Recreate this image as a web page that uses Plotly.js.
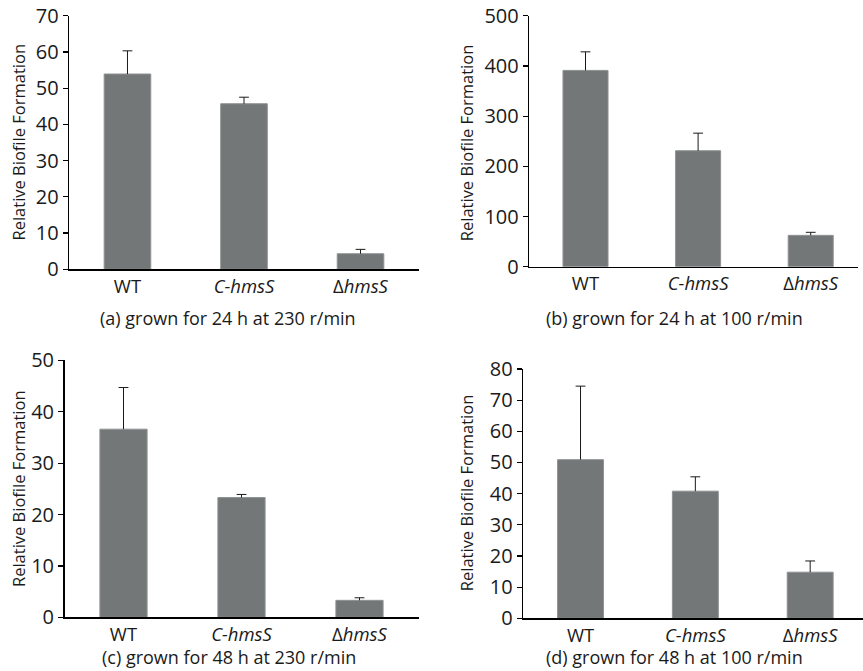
<!DOCTYPE html>
<html>
<head>
<meta charset="utf-8">
<script src="https://cdn.plot.ly/plotly-3.0.1.min.js"></script>
<style>html,body{margin:0;padding:0;background:#fff;}#chart{width:863px;height:671px;}</style>
</head>
<body>
<div id="chart"></div>
<script>
// Categories (strains)
const categories = ['WT', '<i>C-hmsS</i>', 'Δ<i>hmsS</i>'];

// (a) grown for 24 h at 230 r/min
const valuesA = [53.9, 45.7, 4.3];
const errorsA = [6.4, 1.8, 1.2];
// (b) grown for 24 h at 100 r/min
const valuesB = [391, 231, 62.5];
const errorsB = [37, 35, 6];
// (c) grown for 48 h at 230 r/min
const valuesC = [36.6, 23.3, 3.3];
const errorsC = [8.1, 0.6, 0.5];
// (d) grown for 48 h at 100 r/min
const valuesD = [50.9, 40.8, 14.8];
const errorsD = [23.6, 4.6, 3.6];

const captions = [
  '(a) grown for 24 h at 230 r/min',
  '(b) grown for 24 h at 100 r/min',
  '(c) grown for 48 h at 230 r/min',
  '(d) grown for 48 h at 100 r/min'
];
const yTitle = 'Relative Biofile Formation';

const W = 863, H = 671;
const FONT = '"Open Sans", "DejaVu Sans", sans-serif';
const BAR = '#737777';
const INK = '#1a1a1a';

function bar(vals, xa, ya) {
  return {
    type: 'bar', x: categories, y: vals, xaxis: xa, yaxis: ya,
    width: 0.4,
    marker: {color: BAR, line: {color: '#8e9292', width: 1}},
    showlegend: false, hoverinfo: 'none'
  };
}
// upper-only error bar: cap drawn as marker at the top, stem drawn down to the bar top
function err(vals, errs, xa, ya) {
  return {
    type: 'scatter', mode: 'markers', x: categories,
    y: vals.map((v, i) => v + errs[i]), xaxis: xa, yaxis: ya,
    marker: {symbol: 'line-ew-open', size: 7, color: INK, line: {color: INK, width: 1}},
    error_y: {type: 'data', symmetric: false, array: errs.map(() => 0),
              arrayminus: errs, color: INK, thickness: 1, width: 0},
    showlegend: false, hoverinfo: 'none', cliponaxis: false
  };
}

const data = [
  bar(valuesA, 'x', 'y'),   err(valuesA, errorsA, 'x', 'y'),
  bar(valuesB, 'x2', 'y2'), err(valuesB, errorsB, 'x2', 'y2'),
  bar(valuesC, 'x3', 'y3'), err(valuesC, errorsC, 'x3', 'y3'),
  bar(valuesD, 'x4', 'y4'), err(valuesD, errorsD, 'x4', 'y4')
];

function xd(a, b) { return [a / W, Math.min(b / W, 1)]; }
function yd(top, bottom) { return [1 - bottom / H, 1 - top / H]; }

function xaxis(dom, r) {
  return {
    domain: dom, range: r, showgrid: false, zeroline: false,
    showline: true, linecolor: '#000', linewidth: 1.5, ticks: '',
    tickfont: {family: FONT, size: 18.5, color: INK}, fixedrange: true
  };
}
function yaxis(dom, r, dt) {
  return {
    domain: dom, range: r, dtick: dt, showgrid: false, zeroline: false,
    showline: true, linecolor: '#000', linewidth: 1.5, ticks: 'outside',
    ticklen: 5, tickcolor: '#000', tickwidth: 1.2,
    tickfont: {family: FONT, size: 20, color: INK}, fixedrange: true
  };
}

const layout = {
  width: W, height: H, margin: {l: 0, r: 0, t: 0, b: 0},
  paper_bgcolor: '#fff', plot_bgcolor: '#fff',
  font: {family: FONT, color: INK},
  xaxis:  Object.assign(xaxis(xd(69.2, 418.8), [-0.5, 2.5]), {anchor: 'y'}),
  yaxis:  Object.assign(yaxis(yd(15.7, 269.3), [0, 70], 10), {anchor: 'x'}),
  xaxis2: Object.assign(xaxis(xd(529.2, 858), [-0.5, 2.42]), {anchor: 'y2'}),
  yaxis2: Object.assign(yaxis(yd(15.7, 266.7), [0, 500], 100), {anchor: 'x2'}),
  xaxis3: Object.assign(xaxis(xd(64.5, 418.5), [-0.5, 2.5]), {anchor: 'y3'}),
  yaxis3: Object.assign(yaxis(yd(360.3, 617.3), [0, 50], 10), {anchor: 'x3'}),
  xaxis4: Object.assign(xaxis(xd(523.1, 863), [-0.5, 2.46]), {anchor: 'y4'}),
  yaxis4: Object.assign(yaxis(yd(369, 618.3), [0, 80], 10), {anchor: 'x4'}),
  annotations: [
    {text: captions[0], x: 228 / W, y: 1 - 318 / H, yanchor: 'middle'},
    {text: captions[1], x: 674 / W, y: 1 - 318 / H, yanchor: 'middle'},
    {text: captions[2], x: 229 / W, y: 1 / H, yanchor: 'bottom'},
    {text: captions[3], x: 674 / W, y: 1 / H, yanchor: 'bottom'}
  ].map(a => Object.assign({
    xref: 'paper', yref: 'paper', showarrow: false,
    xanchor: 'center', borderpad: 0,
    font: {family: FONT, size: 18, color: INK}
  }, a)).concat([
    {text: yTitle, x: 18 / W, y: 1 - 142.5 / H},
    {text: yTitle, x: 466.7 / W, y: 1 - 142.5 / H},
    {text: yTitle, x: 18 / W, y: 1 - 489 / H},
    {text: yTitle, x: 466.7 / W, y: 1 - 492.5 / H}
  ].map(a => Object.assign({
    xref: 'paper', yref: 'paper', showarrow: false, textangle: -90,
    xanchor: 'center', yanchor: 'middle',
    font: {family: FONT, size: 16.5, color: INK}
  }, a)))
};

Plotly.newPlot('chart', data, layout, {displayModeBar: false, staticPlot: true});
</script>
</body>
</html>
